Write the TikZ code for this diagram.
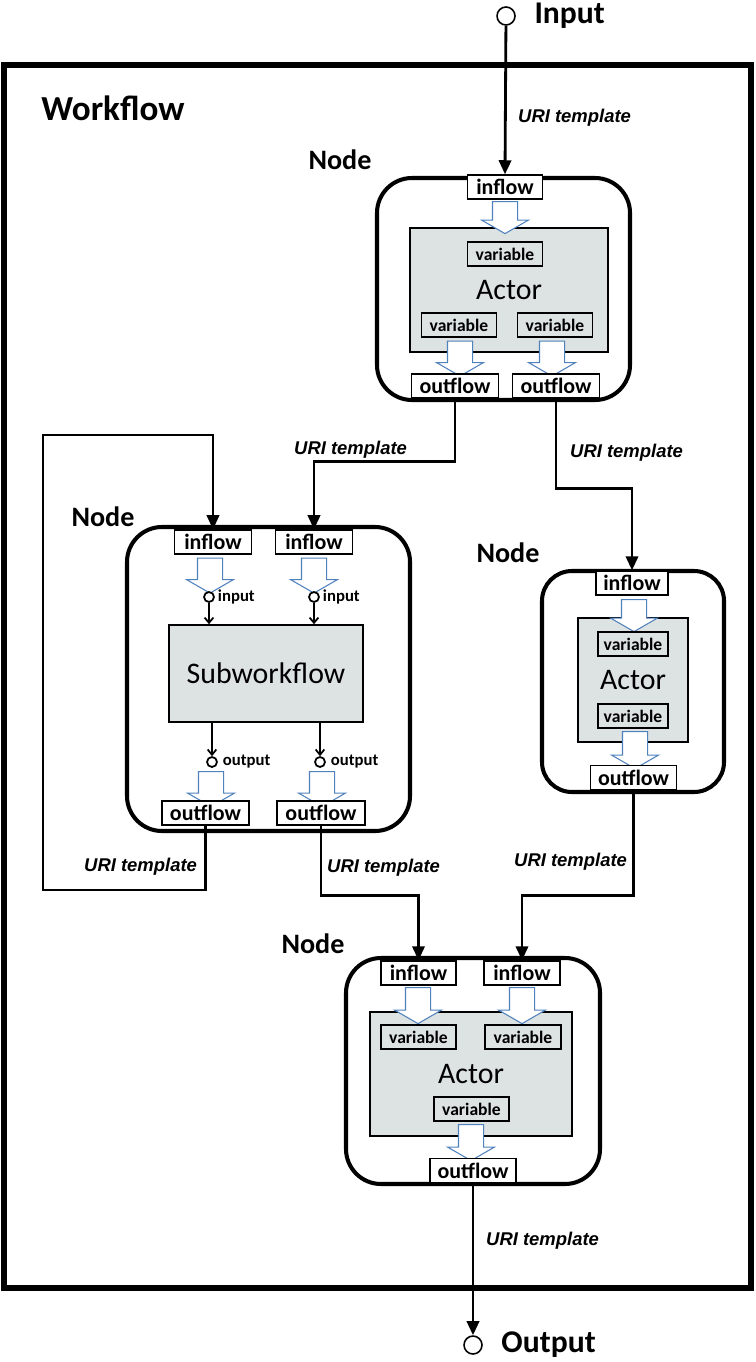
\documentclass[tikz,border=0pt]{standalone}
\usepackage{fontspec}
\setmainfont{Carlito}
\newfontfamily\urifont{Liberation Sans}
\usetikzlibrary{positioning,arrows.meta,shapes.arrows}
\definecolor{actorgray}{RGB}{221,226,226}
\definecolor{flowblue}{RGB}{79,129,189}
\tikzset{
  nodeframe/.style={
    draw,
    line width=2.3pt,
    rounded corners=0.7cm
  },
  flowbox/.style={
    draw,
    fill=white,
    line width=0.8pt,
    minimum height=0.48cm,
    inner sep=0pt,
    font=\fontsize{12.5}{13}\selectfont\bfseries
  },
  varbox/.style={
    draw,
    fill=actorgray,
    line width=0.8pt,
    minimum width=1.5cm,
    minimum height=0.48cm,
    inner sep=0pt,
    font=\fontsize{10}{11}\selectfont\bfseries
  },
  actorbox/.style={
    draw,
    fill=actorgray,
    line width=0.9pt,
    inner sep=0pt,
    font=\fontsize{17}{18}\selectfont
  },
  blockarrow/.style={
    single arrow,
    draw=flowblue,
    fill=white,
    line width=0.6pt,
    rotate=-90,
    inner xsep=0pt,
    inner ysep=0.24cm,
    minimum width=0pt,
    single arrow head extend=0.22cm,
    single arrow tip angle=120
  },
  port/.style={
    circle,
    draw,
    line width=1pt,
    fill=white,
    minimum size=0.2cm,
    inner sep=0pt
  },
  terminal/.style={
    circle,
    draw,
    line width=0.9pt,
    fill=white,
    minimum size=0.36cm,
    inner sep=0pt
  },
  flow/.style={
    line width=1.6pt,
    -{Triangle[length=8pt,width=7pt]}
  },
  portflow/.style={
    line width=1pt,
    -{Straight Barb[length=3pt,width=5pt]}
  },
  uri/.style={
    anchor=west,
    font=\urifont\fontsize{10.5}{12}\selectfont\bfseries\itshape
  },
  nodetitle/.style={font=\fontsize{16}{18}\selectfont\bfseries},
  termtitle/.style={font=\fontsize{18}{20}\selectfont\bfseries},
  portlabel/.style={font=\fontsize{9.5}{10}\selectfont\bfseries, inner sep=1pt}
}

\begin{document}
\begin{tikzpicture}[x=0.02cm, y=-0.02cm]
  \useasboundingbox (0,0) rectangle (756,1362);

  % Workflow frame
  \draw[line width=3.4pt] (4,65) rectangle (751,1288);
  \node[font=\fontsize{20}{22}\selectfont\bfseries] (wftitle) at (113,108) {Workflow};

  % Input / Output terminals
  \node[terminal] (inp) at (506,16) {};
  \node[termtitle, right=0.25cm of inp] (inptext) {Input};
  \node[terminal] (outp) at (473,1345) {};
  \node[termtitle, right=0.25cm of outp] (outptext) {Output};

  % Node 1 (actor)
  \node[nodetitle] (n1title) at (340,160) {Node};
  \draw[nodeframe] (377,178) rectangle (630,400);
  \node[actorbox, minimum width=3.96cm, minimum height=2.48cm] (n1actor) at (509,290) {Actor};
  \node[flowbox, minimum width=1.5cm] (n1in) at (505,187) {inflow};
  \node[blockarrow, minimum height=0.64cm] (n1arrin) at (505,214) {};
  \node[varbox] (n1varT) at (505,254) {variable};
  \node[varbox] (n1varL) at (459,325) {variable};
  \node[varbox] (n1varR) at (555,325) {variable};
  \node[blockarrow, minimum height=0.7cm] (n1arrL) at (460,355) {};
  \node[blockarrow, minimum height=0.7cm] (n1arrR) at (552,355) {};
  \node[flowbox, minimum width=1.74cm] (n1outL) at (455,386) {outflow};
  \node[flowbox, minimum width=1.74cm] (n1outR) at (556,386) {outflow};

  % Node 2 (subworkflow)
  \node[nodetitle] (n2title) at (103,517) {Node};
  \draw[nodeframe] (127,527) rectangle (410,831);
  \node[actorbox, minimum width=3.88cm, minimum height=1.94cm] (sub) at (266,673.5) {Subworkflow};
  \node[flowbox, minimum width=1.54cm] (n2inL) at (213,542) {inflow};
  \node[flowbox, minimum width=1.54cm] (n2inR) at (314,542) {inflow};
  \node[blockarrow, minimum height=0.7cm] (n2arrinL) at (210,572) {};
  \node[blockarrow, minimum height=0.7cm] (n2arrinR) at (314,572) {};
  \node[port] (n2cinL) at (209,597) {};
  \node[port] (n2cinR) at (314,597) {};
  \node[portlabel, right=0.02cm of n2cinL] (n2linL) {input};
  \node[portlabel, right=0.02cm of n2cinR] (n2linR) {input};
  \node[port] (n2coutL) at (212,762) {};
  \node[port] (n2coutR) at (320,762) {};
  \node[portlabel, right=0.06cm of n2coutL] (n2loutL) {output};
  \node[portlabel, right=0.06cm of n2coutR] (n2loutR) {output};
  \node[blockarrow, minimum height=0.7cm] (n2arroutL) at (211,785.5) {};
  \node[blockarrow, minimum height=0.7cm] (n2arroutR) at (322,785.5) {};
  \node[flowbox, minimum width=1.74cm] (n2outL) at (205.5,813) {outflow};
  \node[flowbox, minimum width=1.76cm] (n2outR) at (321,813) {outflow};
  \draw[portflow] (n2cinL) -- (n2cinL |- sub.north);
  \draw[portflow] (n2cinR) -- (n2cinR |- sub.north);
  \draw[portflow] (sub.south -| n2coutL) -- (n2coutL);
  \draw[portflow] (sub.south -| n2coutR) -- (n2coutR);

  % Node 3 (actor)
  \node[nodetitle] (n3title) at (508,553) {Node};
  \draw[nodeframe, rounded corners=0.6cm] (542,571) rectangle (724,792);
  \node[actorbox, minimum width=2.2cm, minimum height=2.48cm] (n3actor) at (633,680) {Actor};
  \node[flowbox, minimum width=1.44cm] (n3in) at (632,583) {inflow};
  \node[blockarrow, minimum height=0.64cm] (n3arrin) at (634,612) {};
  \node[varbox, minimum width=1.4cm] (n3varT) at (633,644) {variable};
  \node[varbox, minimum width=1.4cm] (n3varB) at (633,716) {variable};
  \node[blockarrow, minimum height=0.74cm] (n3arrout) at (635,746.5) {};
  \node[flowbox, minimum width=1.72cm] (n3out) at (633.5,777.5) {outflow};

  % Node 4 (actor)
  \node[nodetitle] (n4title) at (313,944) {Node};
  \draw[nodeframe] (346,958) rectangle (600,1184);
  \node[actorbox, minimum width=4.04cm, minimum height=2.48cm] (n4actor) at (471,1074) {Actor};
  \node[flowbox, minimum width=1.5cm] (n4inL) at (418.5,973) {inflow};
  \node[flowbox, minimum width=1.52cm] (n4inR) at (522,973) {inflow};
  \node[blockarrow, minimum height=0.72cm] (n4arrinL) at (418,1002) {};
  \node[blockarrow, minimum height=0.72cm] (n4arrinR) at (522,1002) {};
  \node[varbox] (n4varL) at (418.5,1037) {variable};
  \node[varbox, minimum width=1.52cm] (n4varR) at (523,1037) {variable};
  \node[varbox] (n4varB) at (471.5,1109) {variable};
  \node[blockarrow, minimum height=0.72cm] (n4arrout) at (471,1139) {};
  \node[flowbox, minimum width=1.72cm] (n4out) at (473,1170.5) {outflow};

  % connectors
  \coordinate (loopbot) at (43,890);
  \coordinate (looptop) at (43,435);
  \draw[flow] (inp) -- (n1in.north);
  \draw[flow] (n1outL.south) -- ++(0,63) -| (n2inR.north);
  \draw[flow] (n1outR.south) -- ++(0,90) -| (n3in.north);
  \draw[flow] (n2outL.south) |- (loopbot) -- (looptop) -| (n2inL.north);
  \draw[flow] (n2outR.south) -- ++(0,70) -| (n4inL.north);
  \draw[flow] (n3out.south) -- ++(0,105) -| (n4inR.north);
  \draw[flow] (n4out.south) -- (outp);

  \node[uri] (uri1) at (512,118) {URI template};
  \node[uri] (uri2) at (288,450) {URI template};
  \node[uri] (uri3) at (564,453) {URI template};
  \node[uri] (uri4) at (78,867) {URI template};
  \node[uri] (uri5) at (321,868) {URI template};
  \node[uri] (uri6) at (508,862) {URI template};
  \node[uri] (uri7) at (480,1241) {URI template};
\end{tikzpicture}
\end{document}
